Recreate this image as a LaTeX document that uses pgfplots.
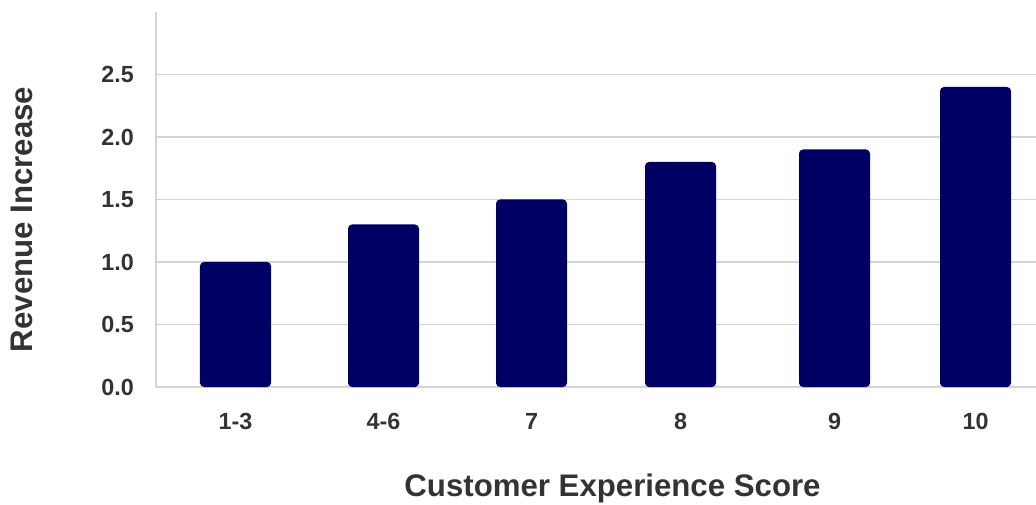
\documentclass[border=0pt]{standalone}
\usepackage{pgfplots}
\pgfplotsset{compat=1.18}
\usepackage{pgfplotstable}
\usepackage{fontspec}
\setmainfont{Liberation Sans}

\definecolor{barnavy}{HTML}{000064}
\definecolor{textgray}{HTML}{333333}
\definecolor{linegray}{HTML}{D4D4D4}

% slot position of each score group and its revenue increase
\pgfplotstableread{
pos   val
235.5 1.0
383.5 1.3
531.5 1.5
680.5 1.8
834.5 1.9
975.5 2.4
}\revdata

\begin{document}
\begin{tikzpicture}
\useasboundingbox (0,0) rectangle (777pt,378pt);
\begin{axis}[
  at={(117pt,87.75pt)}, anchor=south west,
  scale only axis,
  width=660pt, height=281.25pt,
  xmin=156, xmax=1036,
  ymin=0, ymax=3,
  axis x line=bottom, axis y line=left,
  axis line style={-, draw=linegray, line width=0.9pt},
  ymajorgrids,
  grid style={draw=linegray, line width=0.9pt},
  major tick length=0pt,
  xtick=data,
  xticklabels={1-3,4-6,7,8,9,10},
  ytick={0,0.5,1,1.5,2,2.5},
  yticklabels={0.0,0.5,1.0,1.5,2.0,2.5},
  tick label style={font=\fontsize{17.5}{20}\selectfont\bfseries, text=textgray, inner sep=0pt},
  yticklabel style={anchor=east, xshift=-16.5pt},
  xticklabel style={anchor=base, yshift=-31.5pt},
  label style={font=\fontsize{23.4}{27}\selectfont\bfseries, text=textgray, inner sep=0pt},
  xlabel={Customer Experience Score},
  ylabel={Revenue Increase},
  xlabel style={at={(rel axis cs:0.5188,-0.2913)}, anchor=base},
  ylabel style={at={(rel axis cs:-0.1528,0.4467)}, anchor=center},
  clip=false,
]
\addplot[ybar, bar width=53.25pt, fill=barnavy, draw=none, rounded corners=3pt]
  table[x=pos, y=val] {\revdata};
\end{axis}
\end{tikzpicture}
\end{document}
